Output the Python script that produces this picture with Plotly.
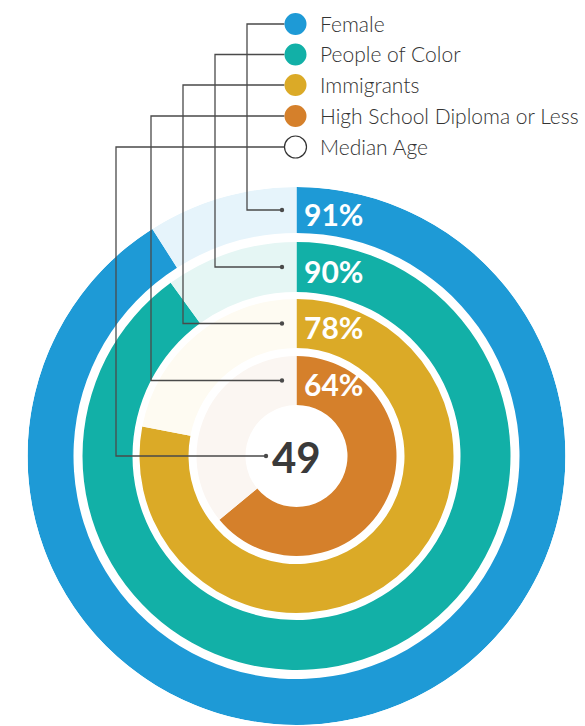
import plotly.graph_objects as go

W, H = 585, 726

# ---- data ----
categories = ["Female", "People of Color", "Immigrants", "High School Diploma or Less"]
values = [91, 90, 78, 64]
pct_labels = ["91%", "90%", "78%", "64%"]
median_label = "Median Age"
median_age = 49
colors = ["#1E9AD6", "#12B0A7", "#DBAA27", "#D5802B"]
tints = ["#E6F4FB", "#E5F6F4", "#FEFBF2", "#FBF6F2"]

# ---- layout geometry (pixels) ----
cx, cy = 296.5, 456
ring_inner = [223, 164, 108, 51]
ring_outer = [269, 214, 157, 100]
R = 269
legend_y = [24, 54.5, 85, 116, 147]
legend_marker_x = 295.5
marker_r = 11
legend_text_x = 318
elbow_x = [247, 215, 183, 151, 116]
dot_x = [282, 282, 282, 282, 266]


def px(x):
    return x / W


def py(y):
    return 1 - y / H


fig = go.Figure()

for i, v in enumerate(values):
    ang = v * 3.6
    fig.add_trace(go.Barpolar(
        r=[ring_outer[i] - ring_inner[i], ring_outer[i] - ring_inner[i]],
        base=[ring_inner[i], ring_inner[i]],
        theta=[ang / 2, ang + (360 - ang) / 2],
        width=[ang, 360 - ang],
        marker=dict(color=[colors[i], tints[i]], line=dict(width=0)),
        hoverinfo="skip",
        showlegend=False,
    ))

shapes = []
annotations = []
line_color = "#4a4a4a"

# line y for each series: ring mid-radius; median: center
line_y = [cy - (ring_inner[i] + ring_outer[i]) / 2 for i in range(4)] + [cy]

all_labels = categories + [median_label]
for k in range(5):
    start_x = legend_marker_x - marker_r
    path = (f"M {px(start_x)},{py(legend_y[k])} L {px(elbow_x[k])},{py(legend_y[k])} "
            f"L {px(elbow_x[k])},{py(line_y[k])} L {px(dot_x[k])},{py(line_y[k])}")
    shapes.append(dict(type="path", path=path, xref="paper", yref="paper",
                       line=dict(color=line_color, width=1.3), layer="above"))
    dr = 2.2
    shapes.append(dict(type="circle", xref="paper", yref="paper",
                       x0=px(dot_x[k] - dr), x1=px(dot_x[k] + dr),
                       y0=py(line_y[k] + dr), y1=py(line_y[k] - dr),
                       fillcolor=line_color, line=dict(width=0), layer="above"))
    # legend marker
    if k < 4:
        fc, lc, lw = colors[k], colors[k], 0
    else:
        fc, lc, lw = "white", "#333333", 1.2
    shapes.append(dict(type="circle", xref="paper", yref="paper",
                       x0=px(legend_marker_x - marker_r), x1=px(legend_marker_x + marker_r),
                       y0=py(legend_y[k] + marker_r), y1=py(legend_y[k] - marker_r),
                       fillcolor=fc, line=dict(color=lc, width=lw), layer="above"))
    annotations.append(dict(text=all_labels[k], x=px(legend_text_x), y=py(legend_y[k] - 0.5),
                            xref="paper", yref="paper", xanchor="left", yanchor="middle",
                            showarrow=False,
                            font=dict(family="Lato", size=21, color="#333333", weight=300)))

for i in range(4):
    annotations.append(dict(text=pct_labels[i], x=px(302), y=py(line_y[i] + 3.5),
                            xref="paper", yref="paper", xanchor="left", yanchor="middle",
                            showarrow=False,
                            font=dict(family="Lato", size=30, color="white", weight="bold")))

annotations.append(dict(text=str(median_age), x=px(cx), y=py(cy + 1),
                        xref="paper", yref="paper", xanchor="center", yanchor="middle",
                        showarrow=False,
                        font=dict(family="Lato", size=42, color="#3a3a3a", weight="bold")))

fig.update_layout(
    width=W, height=H,
    margin=dict(l=0, r=0, t=0, b=0),
    paper_bgcolor="white",
    plot_bgcolor="white",
    showlegend=False,
    polar=dict(
        domain=dict(x=[px(cx - R), px(cx + R)], y=[py(cy + R), py(cy - R)]),
        bgcolor="white",
        barmode="overlay",
        hole=0,
        radialaxis=dict(visible=False, range=[0, R]),
        angularaxis=dict(visible=False, rotation=90, direction="clockwise"),
    ),
    shapes=shapes,
    annotations=annotations,
)

fig.write_html("out.html")
